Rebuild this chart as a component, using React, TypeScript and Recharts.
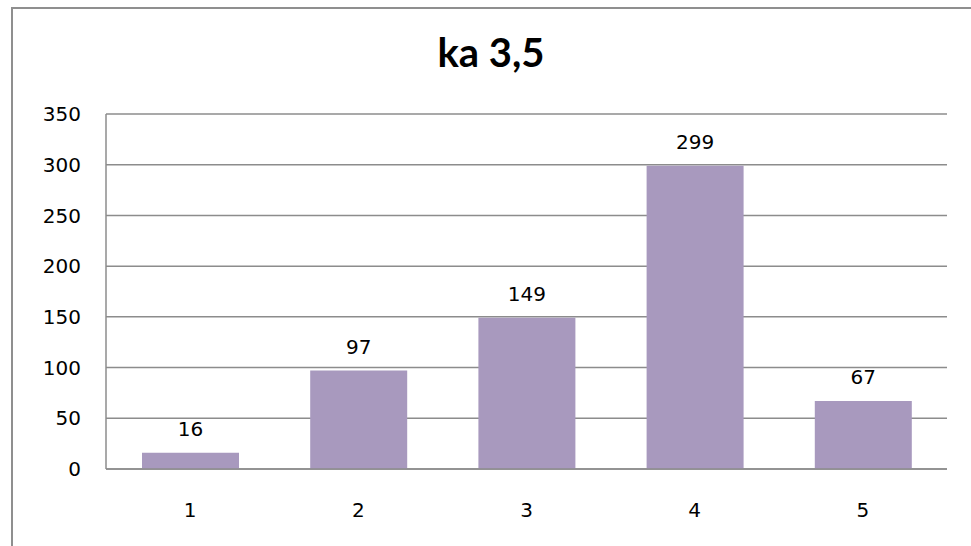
import React from "react";
import { BarChart, Bar, XAxis, YAxis, CartesianGrid, LabelList } from "recharts";

const categories = ["1", "2", "3", "4", "5"];
const values = [16, 97, 149, 299, 67];
const yTicks = [0, 50, 100, 150, 200, 250, 300, 350];
const title = "ka 3,5";

const data = categories.map((c, i) => ({ name: c, value: values[i] }));

const FONT = "'DejaVu Sans', Verdana, sans-serif";
const GRID = "#8c8c8c";

export default function App() {
  return (
    <div
      style={{
        position: "absolute",
        left: 0,
        top: 0,
        width: 971,
        height: 546,
        overflow: "hidden",
        background: "#fff",
      }}
    >
      <div
        style={{
          position: "absolute",
          left: 11,
          top: 7,
          width: 1000,
          height: 600,
          border: "2px solid #8f8f8f",
          boxSizing: "border-box",
        }}
      />
      <div
        style={{
          position: "absolute",
          left: 291,
          width: 400,
          top: 27,
          textAlign: "center",
          fontFamily: "Lato, 'Open Sans', sans-serif",
          fontWeight: 700,
          fontSize: 40,
          lineHeight: "50px",
          color: "#000",
        }}
      >
        {title}
      </div>
      <div style={{ position: "absolute", left: 0, top: 0 }}>
        <BarChart
          width={971}
          height={546}
          data={data}
          margin={{ top: 114, right: 24, bottom: 27, left: 26 }}
        >
          <CartesianGrid vertical={false} stroke={GRID} strokeWidth={1.5} />
          <XAxis
            dataKey="name"
            axisLine={{ stroke: GRID, strokeWidth: 1.5 }}
            tickLine={false}
            tickSize={0}
            tickMargin={34}
            height={50}
            interval={0}
            tick={{ fill: "#000", fontSize: 20, fontFamily: FONT }}
          />
          <YAxis
            width={80}
            domain={[0, 350]}
            ticks={yTicks}
            axisLine={{ stroke: GRID, strokeWidth: 1.5 }}
            tickLine={false}
            tickSize={0}
            tickMargin={25}
            tick={{ fill: "#000", fontSize: 20, fontFamily: FONT }}
          />
          <Bar dataKey="value" fill="#A899BE" barSize={97} isAnimationActive={false}>
            <LabelList
              dataKey="value"
              position="top"
              offset={17}
              fill="#000"
              fontSize={20}
              fontFamily={FONT}
            />
          </Bar>
        </BarChart>
      </div>
    </div>
  );
}
